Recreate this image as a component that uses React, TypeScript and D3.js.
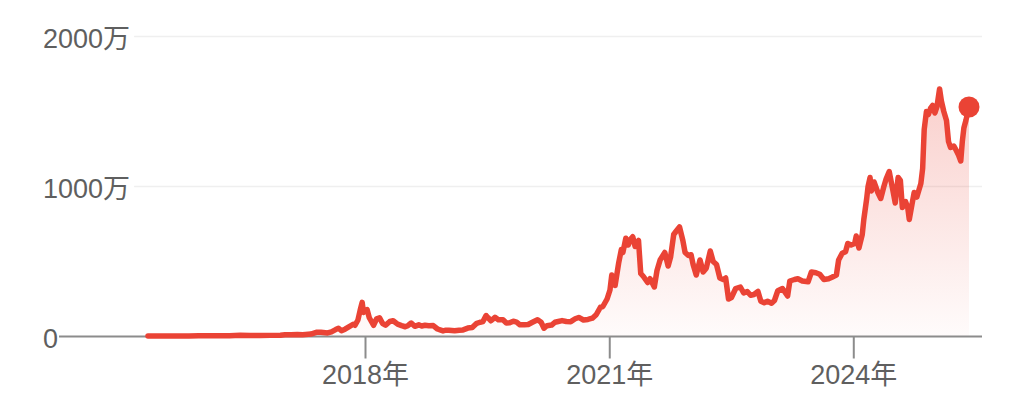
import React, { useEffect, useRef } from "react";
import * as d3 from "d3";

// ---- data (BTC price, 万円) ----
const dates: string[] = [
  // 2015
  "2015-05-01","2015-06-15","2015-08-01","2015-09-15","2015-11-01","2015-12-15",
  // 2016
  "2016-02-01","2016-03-15","2016-05-01","2016-06-18","2016-08-01","2016-09-15","2016-11-01","2016-12-15",
  // 2017
  "2017-01-05","2017-02-01","2017-03-01","2017-03-25","2017-05-01","2017-05-25","2017-06-15","2017-07-15",
  "2017-08-01","2017-08-20","2017-09-02","2017-09-15","2017-10-01","2017-10-20","2017-11-08","2017-11-15",
  "2017-11-28","2017-12-08","2017-12-17","2017-12-23","2017-12-30",
  // 2018
  "2018-01-08","2018-01-18","2018-02-06","2018-02-20","2018-03-05","2018-03-18","2018-04-01","2018-04-20",
  "2018-05-05","2018-05-25","2018-06-12","2018-06-28","2018-07-10","2018-07-25","2018-08-10","2018-08-28",
  "2018-09-10","2018-09-25","2018-10-12","2018-11-01","2018-11-20","2018-12-05","2018-12-15","2018-12-28",
  // 2019
  "2019-01-10","2019-02-05","2019-02-25","2019-03-15","2019-04-05","2019-04-25","2019-05-15","2019-05-30",
  "2019-06-12","2019-06-26","2019-07-05","2019-07-18","2019-08-05","2019-08-20","2019-09-10","2019-09-25",
  "2019-10-10","2019-10-26","2019-11-10","2019-11-25","2019-12-15",
  // 2020
  "2020-01-01","2020-01-20","2020-02-12","2020-02-28","2020-03-12","2020-03-25","2020-04-15","2020-04-30",
  "2020-05-15","2020-06-01","2020-06-20","2020-07-10","2020-07-30","2020-08-15","2020-09-05","2020-09-25",
  "2020-10-15","2020-11-01","2020-11-20","2020-12-01","2020-12-20",
  // 2021
  "2021-01-02","2021-01-10","2021-01-25","2021-02-10","2021-02-22","2021-03-01","2021-03-14","2021-03-25",
  "2021-04-05","2021-04-14","2021-04-25","2021-05-10","2021-05-20","2021-06-01","2021-06-20","2021-07-01",
  "2021-07-20","2021-08-01","2021-08-15","2021-09-05","2021-09-20","2021-10-01","2021-10-15","2021-10-25",
  "2021-11-10","2021-11-25","2021-12-05","2021-12-20",
  // 2022
  "2022-01-01","2022-01-10","2022-01-24","2022-02-10","2022-02-24","2022-03-10","2022-03-28","2022-04-10",
  "2022-04-25","2022-05-10","2022-05-25","2022-06-05","2022-06-18","2022-07-01","2022-07-20","2022-08-10",
  "2022-08-25","2022-09-10","2022-09-25","2022-10-10","2022-10-28","2022-11-10","2022-11-25","2022-12-10",
  "2022-12-28",
  // 2023
  "2023-01-10","2023-01-25","2023-02-15","2023-03-10","2023-03-20","2023-04-10","2023-04-25","2023-05-15",
  "2023-06-10","2023-06-25","2023-07-15","2023-08-01","2023-08-20","2023-09-10","2023-09-25","2023-10-15",
  "2023-10-25","2023-11-10","2023-11-25","2023-12-05","2023-12-20",
  // 2024
  "2024-01-05","2024-01-12","2024-01-24","2024-02-08","2024-02-15","2024-02-28","2024-03-05","2024-03-14",
  "2024-03-20","2024-04-01","2024-04-18","2024-05-01","2024-05-15","2024-05-25","2024-06-08","2024-06-25",
  "2024-07-05","2024-07-18","2024-07-28","2024-08-06","2024-08-20","2024-08-30","2024-09-06","2024-09-18",
  "2024-09-28","2024-10-10","2024-10-28","2024-11-05","2024-11-12","2024-11-22","2024-12-01","2024-12-10",
  "2024-12-20","2024-12-30",
  // 2025
  "2025-01-08","2025-01-20","2025-01-28","2025-02-08","2025-02-20","2025-03-01","2025-03-10","2025-03-25",
  "2025-04-05","2025-04-15","2025-04-25","2025-05-02","2025-05-09","2025-05-18","2025-06-01",
];

const prices: number[] = [
  // 2015
  2.9, 3.0, 3.4, 2.8, 4.0, 5.4,
  // 2016
  4.5, 4.6, 4.9, 7.8, 6.4, 6.6, 7.5, 8.6,
  // 2017
  12, 11, 13, 11, 16, 28, 29, 24,
  31, 46, 55, 38, 49, 66, 82, 75,
  110, 175, 228, 160, 175,
  // 2018
  180, 125, 75, 118, 125, 88, 75, 100,
  105, 82, 72, 65, 72, 90, 68, 78,
  70, 75, 72, 73, 50, 42, 37, 42,
  // 2019
  42, 38, 42, 44, 56, 60, 88, 95,
  100, 140, 125, 105, 128, 112, 112, 90,
  92, 102, 96, 78, 78,
  // 2020
  80, 95, 112, 95, 55, 72, 76, 95,
  100, 106, 100, 99, 118, 127, 110, 114,
  122, 145, 195, 200, 250,
  // 2021
  310, 410, 340, 490, 580, 560, 655, 610,
  650, 665, 600, 640, 420, 400, 360, 385,
  330, 440, 510, 560, 470, 530, 680, 700,
  730, 640, 560, 540,
  // 2022
  545, 480, 410, 510, 430, 455, 570, 500,
  480, 390, 380, 390, 250, 260, 320, 330,
  290, 300, 275, 280, 300, 235, 225, 235,
  222,
  // 2023
  240, 305, 320, 270, 370, 380, 385, 370,
  365, 430, 425, 415, 380, 385, 395, 410,
  510, 555, 565, 620, 610,
  // 2024
  620, 670, 590, 680, 780, 920, 1000, 1060,
  970, 1030, 960, 920, 1000, 1050, 1100, 970,
  890, 1060, 1040, 860, 900, 860, 780, 880,
  960, 930, 1020, 1120, 1380, 1500, 1480, 1520,
  1540, 1490,
  // 2025
  1530, 1650, 1570, 1500, 1440, 1300, 1260, 1270,
  1240, 1210, 1170, 1300, 1390, 1440, 1530,
];

const yTicks: number[] = [0, 1000, 2000];
const yTickLabels: string[] = ["0", "1000万", "2000万"];
const xTicks: string[] = ["2018-01-01", "2021-01-01", "2024-01-01"];
const xTickLabels: string[] = ["2018年", "2021年", "2024年"];

const W = 1024;
const H = 407;
const RED = "#ea4335";
const FONT = "'Liberation Sans', Arial, 'Noto Sans CJK JP', sans-serif";

export default function App() {
  const ref = useRef<SVGSVGElement | null>(null);

  useEffect(() => {
    const svg = d3.select(ref.current);
    svg.selectAll("*").remove();

    const parse = d3.utcParse("%Y-%m-%d");
    const data = dates.map((d, i) => ({ t: parse(d) as Date, v: prices[i] }));

    const x = d3
      .scaleUtc()
      .domain([parse(dates[0]) as Date, parse(dates[dates.length - 1]) as Date])
      .range([148, 969]);
    const y = d3.scaleLinear().domain([0, 2000]).range([336.5, 36.5]);

    const labelX = 43;
    const gridEnd = 982;

    // gradient
    const defs = svg.append("defs");
    const grad = defs
      .append("linearGradient")
      .attr("id", "areaGrad")
      .attr("gradientUnits", "userSpaceOnUse")
      .attr("x1", 0)
      .attr("x2", 0)
      .attr("y1", y(1700))
      .attr("y2", y(0));
    grad.append("stop").attr("offset", "0%").attr("stop-color", RED).attr("stop-opacity", 0.26);
    grad.append("stop").attr("offset", "100%").attr("stop-color", RED).attr("stop-opacity", 0.02);

    // y labels & gridlines
    let zeroLen = 15;
    yTicks.forEach((v, i) => {
      const t = svg
        .append("text")
        .attr("x", labelX)
        .attr("y", y(v) + 11.5)
        .attr("font-family", FONT)
        .attr("font-size", 27)
        .attr("fill", "#5f5f5f")
        .text(yTickLabels[i]);
      const len = (t.node() as SVGTextElement).getComputedTextLength();
      if (v === 0) {
        zeroLen = len;
      } else {
        svg
          .append("line")
          .attr("x1", labelX + len + 4)
          .attr("x2", gridEnd)
          .attr("y1", y(v))
          .attr("y2", y(v))
          .attr("stroke", "#efefef")
          .attr("stroke-width", 1.5);
      }
    });

    // area
    const area = d3
      .area<{ t: Date; v: number }>()
      .x((d) => x(d.t))
      .y0(y(0))
      .y1((d) => y(d.v));
    svg.append("path").datum(data).attr("d", area).attr("fill", "url(#areaGrad)");

    // baseline
    svg
      .append("line")
      .attr("x1", labelX + zeroLen + 1)
      .attr("x2", gridEnd)
      .attr("y1", y(0))
      .attr("y2", y(0))
      .attr("stroke", "#8c8c8c")
      .attr("stroke-width", 2);

    // x ticks
    xTicks.forEach((d, i) => {
      const px = x(parse(d) as Date);
      svg
        .append("line")
        .attr("x1", px)
        .attr("x2", px)
        .attr("y1", y(0))
        .attr("y2", y(0) + 22)
        .attr("stroke", "#8c8c8c")
        .attr("stroke-width", 2);
      svg
        .append("text")
        .attr("x", px)
        .attr("y", 383.5)
        .attr("text-anchor", "middle")
        .attr("font-family", FONT)
        .attr("font-size", 27)
        .attr("fill", "#5f5f5f")
        .text(xTickLabels[i]);
    });

    // line
    const line = d3
      .line<{ t: Date; v: number }>()
      .x((d) => x(d.t))
      .y((d) => y(d.v));
    svg
      .append("path")
      .datum(data)
      .attr("d", line)
      .attr("fill", "none")
      .attr("stroke", RED)
      .attr("stroke-width", 5.5)
      .attr("stroke-linejoin", "round")
      .attr("stroke-linecap", "round");

    // end dot
    const last = data[data.length - 1];
    svg
      .append("circle")
      .attr("cx", x(last.t))
      .attr("cy", y(last.v))
      .attr("r", 10.5)
      .attr("fill", RED);
  }, []);

  return (
    <svg
      ref={ref}
      width={W}
      height={H}
      style={{ position: "fixed", left: 0, top: 0, background: "#fff" }}
    />
  );
}
